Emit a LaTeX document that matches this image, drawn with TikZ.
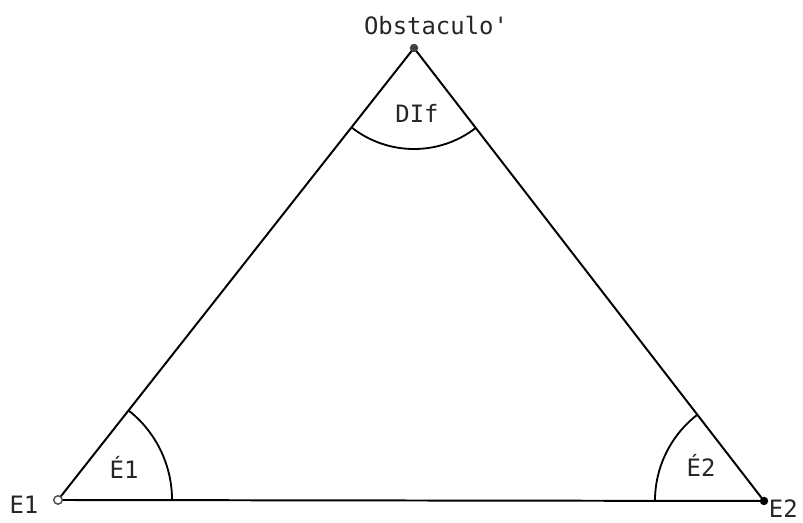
\documentclass[tikz,border=0pt]{standalone}
\usepackage{fontspec}
\setmonofont{DejaVu Sans Mono}
\usepackage{tikz}
\usetikzlibrary{angles, calc}
\tikzset{
  lado/.style={line width=1.4pt, black},
  arco/.style={draw, line width=1.3pt, black},
  etiqueta/.style={font=\ttfamily\fontsize{17}{17}\selectfont, inner sep=0pt, text=black!85},
  estacion/.style={circle, inner sep=0pt, minimum size=6pt}
}

\begin{document}
\begin{tikzpicture}[x=0.025cm, y=0.025cm]
    \useasboundingbox (0,0) rectangle (803,523);

    % Vertices del triangulo
    \coordinate (E1) at (58,23);
    \coordinate (E2) at (764,22);
    \coordinate (Obs) at (414,475);

    % Lados
    \draw[lado] (E1) -- (Obs) -- (E2) -- cycle;

    % Angulos
    \pic[arco, angle radius=2.85cm] {angle = E2--E1--Obs};
    \pic[arco, angle radius=2.725cm] {angle = Obs--E2--E1};
    \pic[arco, angle radius=2.525cm] {angle = E1--Obs--E2};

    % Puntos de estacion
    \node[estacion, draw=black!70, line width=1pt, fill=white] (pE1) at (E1) {};
    \node[estacion, fill=black] (pE2) at (E2) {};
    \node[estacion, fill=black!75] (pObs) at (Obs) {};

    % Textos
    \node[etiqueta] (lE1) at (24,18) {E1};
    \node[etiqueta, anchor=east] (lE2) at (798,14) {E2};
    \node[etiqueta] (lObs) at (436,497) {Obstaculo'};
    \node[etiqueta] (aE1) at (124,56) {É1};
    \node[etiqueta] (aE2) at (701,58) {É2};
    \node[etiqueta] (aObs) at (417,410) {DIf};

\end{tikzpicture}
\end{document}
